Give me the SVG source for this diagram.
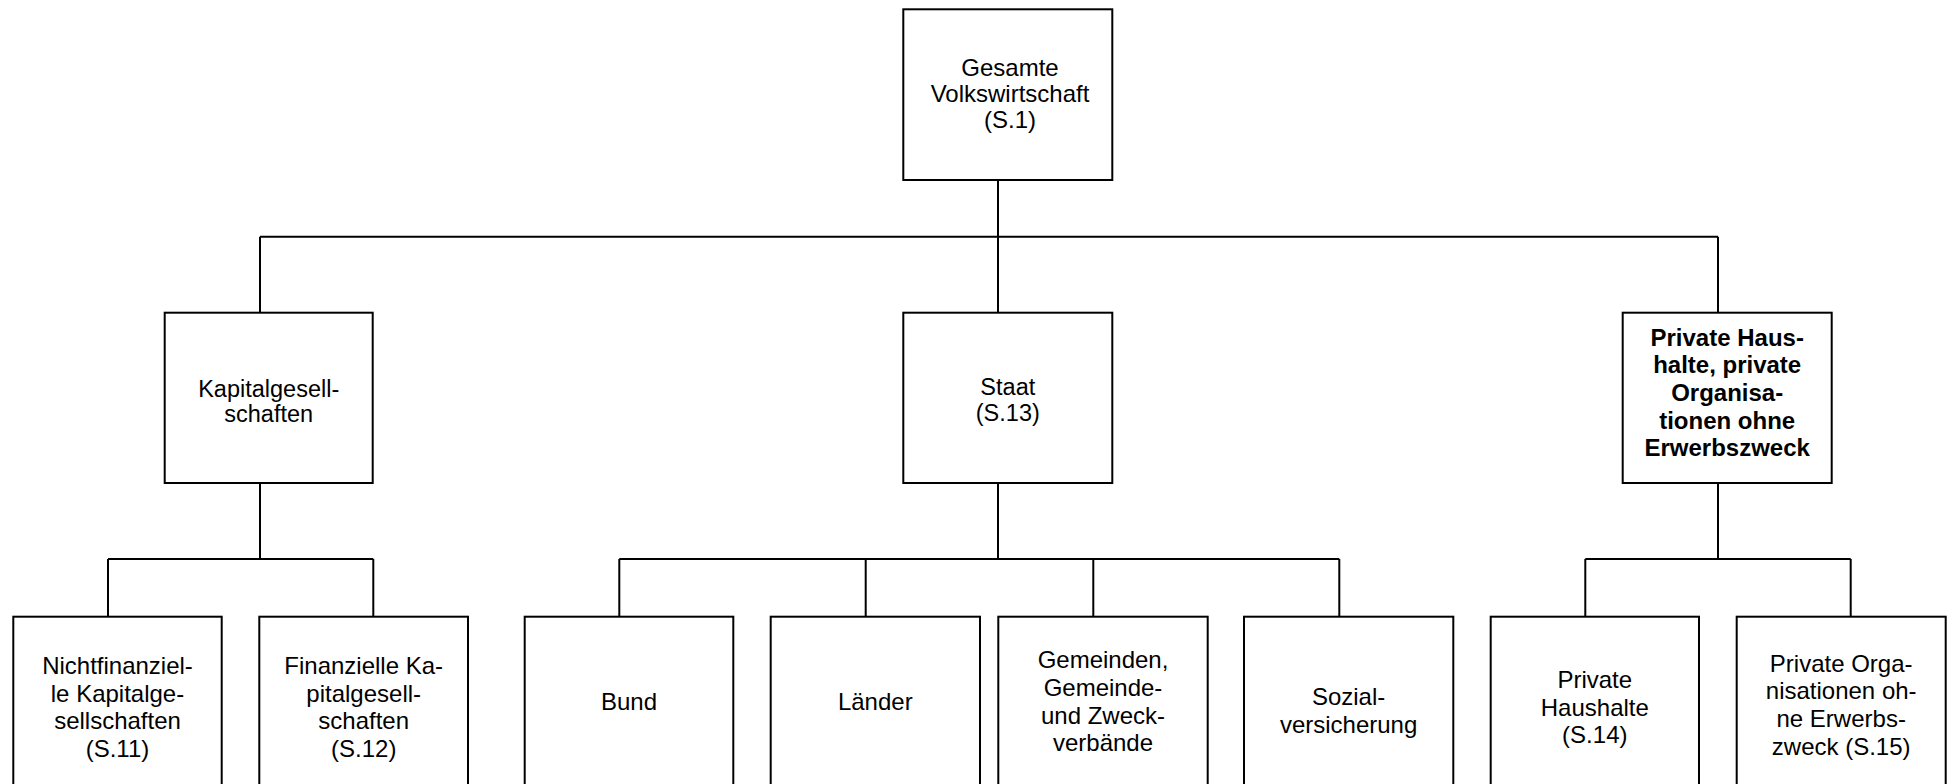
<svg xmlns="http://www.w3.org/2000/svg" width="1948" height="784" viewBox="0 0 1948 784">
<style>
.box{fill:#fff;stroke:#000;stroke-width:2}
.ln{fill:none;stroke:#000;stroke-width:2}
text{font-family:"Liberation Sans",Arial,sans-serif;fill:#000;text-anchor:middle}
.t0{font-size:24px}
.t1{font-size:23.5px}
.t2{font-size:24px}
.tb{font-size:24px;font-weight:bold}
</style>
<rect width="1948" height="784" fill="#fff"/>
<g id="connectors">
<path class="ln" d="M998,180V236.7M260,236.7H1718M260,236.7V312.7M998,236.7V312.7M1718,236.7V312.7"/>
<path class="ln" d="M260,483V559M108,559H373.3M108,559V616.7M373.3,559V616.7"/>
<path class="ln" d="M998,483V559M619.3,559H1339.3M619.3,559V616.7M865.7,559V616.7M1093.3,559V616.7M1339.3,559V616.7"/>
<path class="ln" d="M1718,483V559M1585.3,559H1850.7M1585.3,559V616.7M1850.7,559V616.7"/>
</g>
<g id="n-s1">
<rect class="box" x="903.3" y="9.3" width="209" height="170.7"/>
<text class="t0"><tspan x="1010" y="76">Gesamte</tspan><tspan x="1010" y="102">Volkswirtschaft</tspan><tspan x="1010" y="128">(S.1)</tspan></text>
</g>
<g id="n-kap">
<rect class="box" x="164.7" y="312.7" width="208" height="170.3"/>
<text class="t1"><tspan x="268.7" y="396.5">Kapitalgesell-</tspan><tspan x="268.7" y="422">schaften</tspan></text>
</g>
<g id="n-s13">
<rect class="box" x="903.3" y="312.7" width="209" height="170.3"/>
<text class="t1"><tspan x="1007.8" y="395">Staat</tspan><tspan x="1007.8" y="420.5">(S.13)</tspan></text>
</g>
<g id="n-phh">
<rect class="box" x="1622.7" y="312.7" width="209" height="170.3"/>
<text class="tb"><tspan x="1727.2" y="345.7">Private Haus-</tspan><tspan x="1727.2" y="373.3">halte, private</tspan><tspan x="1727.2" y="401">Organisa-</tspan><tspan x="1727.2" y="428.7">tionen ohne</tspan><tspan x="1727.2" y="456.4">Erwerbszweck</tspan></text>
</g>
<g id="n-s11">
<rect class="box" x="13.3" y="616.7" width="208.4" height="172"/>
<text class="t2"><tspan x="117.5" y="674">Nichtfinanziel-</tspan><tspan x="117.5" y="701.7">le Kapitalge-</tspan><tspan x="117.5" y="729.3">sellschaften</tspan><tspan x="117.5" y="757">(S.11)</tspan></text>
</g>
<g id="n-s12">
<rect class="box" x="259.3" y="616.7" width="208.7" height="172"/>
<text class="t2"><tspan x="363.7" y="674">Finanzielle Ka-</tspan><tspan x="363.7" y="701.7">pitalgesell-</tspan><tspan x="363.7" y="729.3">schaften</tspan><tspan x="363.7" y="757">(S.12)</tspan></text>
</g>
<g id="n-bund">
<rect class="box" x="524.7" y="616.7" width="208.6" height="172"/>
<text class="t2" x="629" y="710">Bund</text>
</g>
<g id="n-laender">
<rect class="box" x="770.7" y="616.7" width="209.3" height="172"/>
<text class="t2" x="875.3" y="710">Länder</text>
</g>
<g id="n-gem">
<rect class="box" x="998.3" y="616.7" width="209.4" height="172"/>
<text class="t2"><tspan x="1103" y="668.3">Gemeinden,</tspan><tspan x="1103" y="696">Gemeinde-</tspan><tspan x="1103" y="723.7">und Zweck-</tspan><tspan x="1103" y="751.4">verbände</tspan></text>
</g>
<g id="n-sozial">
<rect class="box" x="1244" y="616.7" width="209.3" height="172"/>
<text class="t2"><tspan x="1348.6" y="705">Sozial-</tspan><tspan x="1348.6" y="732.7">versicherung</tspan></text>
</g>
<g id="n-s14">
<rect class="box" x="1490.7" y="616.7" width="208.3" height="172"/>
<text class="t2"><tspan x="1594.8" y="688">Private</tspan><tspan x="1594.8" y="715.7">Haushalte</tspan><tspan x="1594.8" y="743.4">(S.14)</tspan></text>
</g>
<g id="n-s15">
<rect class="box" x="1736.7" y="616.7" width="209" height="172"/>
<text class="t2"><tspan x="1841.2" y="671.7">Private Orga-</tspan><tspan x="1841.2" y="699.4">nisationen oh-</tspan><tspan x="1841.2" y="727">ne Erwerbs-</tspan><tspan x="1841.2" y="754.7">zweck (S.15)</tspan></text>
</g>
</svg>
